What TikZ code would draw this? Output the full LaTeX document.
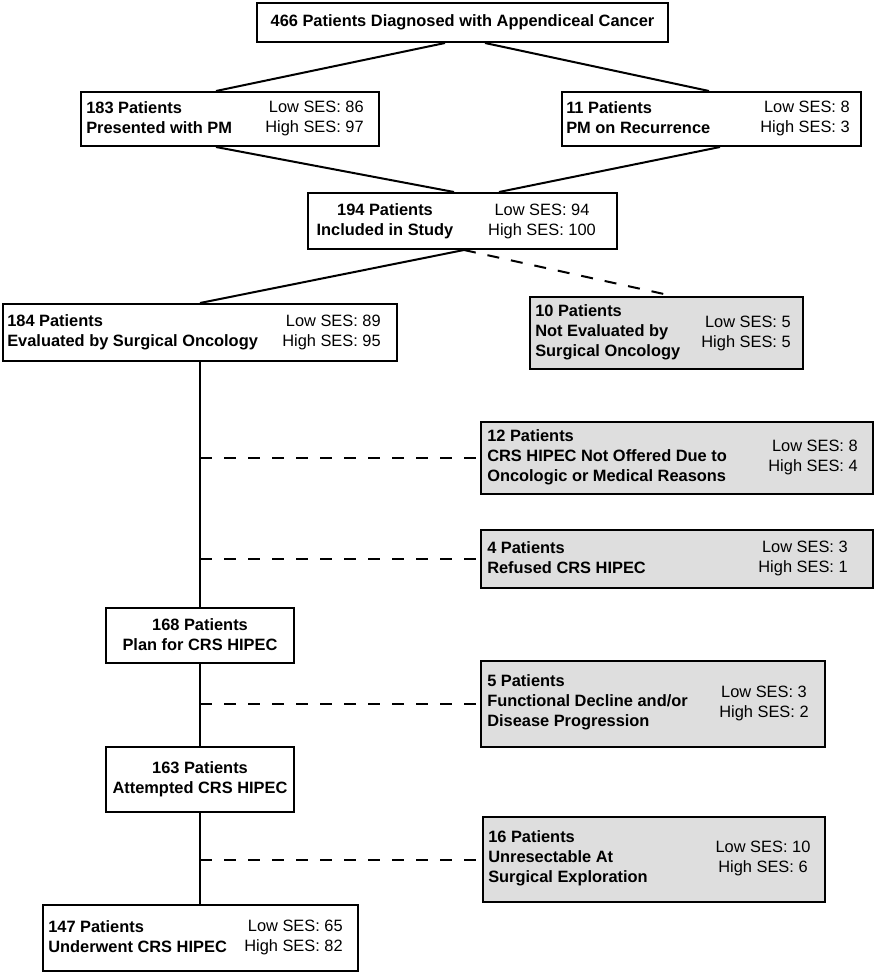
\documentclass[tikz,border=0pt]{standalone}
\usepackage{fontspec}
\setmainfont{Liberation Sans}
\begin{document}
\begin{tikzpicture}[x=0.75pt,y=-0.75pt,
  every node/.style={font=\fontsize{12.3}{15}\selectfont},
  box/.style={draw=black,line width=1.5pt,rectangle,inner sep=0pt,fill=white},
  greybox/.style={box,fill=black!13},
  lt/.style={inner sep=0pt,align=left,anchor=west,font=\fontsize{12.3}{15}\selectfont\bfseries},
  ct/.style={inner sep=0pt,align=center,font=\fontsize{12.3}{15}\selectfont\bfseries},
  rt/.style={inner sep=0pt,align=right,anchor=east},
  rc/.style={inner sep=0pt,align=center},
  link/.style={line width=1.5pt},
  dlink/.style={line width=1.5pt,dash pattern=on 9pt off 9pt}]
\useasboundingbox (0,0) rectangle (876,975);

% boxes
\node[box,minimum width=411*0.75pt,minimum height=39*0.75pt] (top) at (462.5,22.5) {};
\node[ct] (ttop) at (462.5,22.5) {466 Patients Diagnosed with Appendiceal Cancer};

\node[box,minimum width=298*0.75pt,minimum height=54*0.75pt] (b183) at (230,119) {};
\node[lt] (l183) at (86,118) {183 Patients\\Presented with PM};
\node[rt] (r183) at (364,118) {Low SES: 86\\High SES: 97};

\node[box,minimum width=299*0.75pt,minimum height=54*0.75pt] (b11) at (711.5,119) {};
\node[lt] (l11) at (566,118) {11 Patients\\PM on Recurrence};
\node[rt] (r11) at (850,118) {Low SES: 8\\High SES: 3};

\node[box,minimum width=309*0.75pt,minimum height=56*0.75pt] (b194) at (462.5,221) {};
\node[ct] (l194) at (385,221) {194 Patients\\Included in Study};
\node[rc] (r194) at (542,221) {Low SES: 94\\High SES: 100};

\node[box,minimum width=394*0.75pt,minimum height=57*0.75pt] (b184) at (200,332.5) {};
\node[lt] (l184) at (7,332) {184 Patients\\Evaluated by Surgical Oncology};
\node[rt] (r184) at (381,332) {Low SES: 89\\High SES: 95};

\node[greybox,minimum width=273*0.75pt,minimum height=72*0.75pt] (b10) at (666.5,333) {};
\node[lt] (l10) at (535,332) {10 Patients\\Not Evaluated by\\Surgical Oncology};
\node[rt] (r10) at (791,333) {Low SES: 5\\High SES: 5};

\node[greybox,minimum width=392*0.75pt,minimum height=72*0.75pt] (b12) at (677,458) {};
\node[lt] (l12) at (487,457) {12 Patients\\CRS HIPEC Not Offered Due to\\Oncologic or Medical Reasons};
\node[rt] (r12) at (858,457) {Low SES: 8\\High SES: 4};

\node[greybox,minimum width=392*0.75pt,minimum height=58*0.75pt] (b4) at (677,559) {};
\node[lt] (l4) at (487,558) {4 Patients\\Refused CRS HIPEC};
\node[rt] (r4) at (848,558) {Low SES: 3\\High SES: 1};

\node[box,minimum width=188*0.75pt,minimum height=55*0.75pt] (b168) at (200,635.5) {};
\node[ct] (t168) at (200,635) {168 Patients\\Plan for CRS HIPEC};

\node[greybox,minimum width=344*0.75pt,minimum height=86*0.75pt] (b5) at (653,704) {};
\node[lt] (l5) at (487,702) {5 Patients\\Functional Decline and/or\\Disease Progression};
\node[rc] (r5) at (764,703) {Low SES: 3\\High SES: 2};

\node[box,minimum width=188*0.75pt,minimum height=65*0.75pt] (b163) at (200,779.5) {};
\node[ct] (t163) at (200,779) {163 Patients\\Attempted CRS HIPEC};

\node[greybox,minimum width=342*0.75pt,minimum height=85*0.75pt] (b16) at (654,859.5) {};
\node[lt] (l16) at (488,858) {16 Patients\\Unresectable At\\Surgical Exploration};
\node[rc] (r16) at (763,858) {Low SES: 10\\High SES: 6};

\node[box,minimum width=315*0.75pt,minimum height=66*0.75pt] (b147) at (200,938) {};
\node[lt] (l147) at (48,937) {147 Patients\\Underwent CRS HIPEC};
\node[rt] (r147) at (343,937) {Low SES: 65\\High SES: 82};

% connectors
\draw[link] ([xshift=-13.125pt]top.south) -- ([xshift=-10.5pt]b183.north);
\draw[link] ([xshift=16.875pt]top.south) -- ([xshift=-1.875pt]b11.north);
\draw[link] ([xshift=-10.5pt]b183.south) -- ([xshift=-6.375pt]b194.north);
\draw[link] ([xshift=6.375pt]b11.south) -- ([xshift=27.375pt]b194.north);
\draw[link] ([xshift=1.125pt]b194.south) -- (b184.north);
\draw[dlink] ([xshift=1.125pt]b194.south) -- ([xshift=4.875pt]b10.north);
\draw[link] (b184.south) -- (b168.north);
\draw[link] (b168.south) -- (b163.north);
\draw[link] (b163.south) -- (b163.south |- b147.north);
\draw[dlink] (b184.south |- b12.west) -- (b12.west);
\draw[dlink] (b184.south |- b4.west) -- (b4.west);
\draw[dlink] (b168.south |- b5.west) -- (b5.west);
\draw[dlink] (b163.south |- b16.west) -- (b16.west);
\end{tikzpicture}
\end{document}
